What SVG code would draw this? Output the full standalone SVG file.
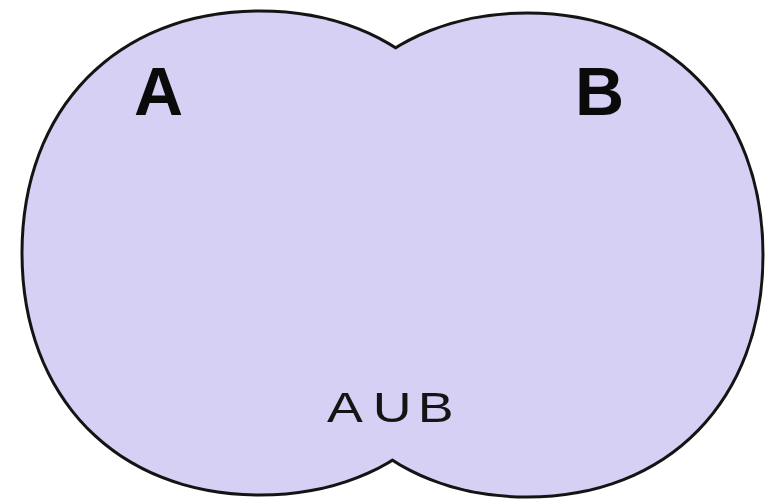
<svg xmlns="http://www.w3.org/2000/svg" xmlns:xlink="http://www.w3.org/1999/xlink" width="770" height="502" viewBox="0 0 770 502">
  <style>
    .outline { fill: none; stroke: #141414; stroke-width: 6; }
    .area { fill: #d6d0f4; stroke: none; }
    .set-label { font-family: "Liberation Sans", Arial, sans-serif; font-weight: bold; font-size: 68px; fill: #0a0a0a; }
    .union-label { font-family: "Liberation Sans", Arial, sans-serif; font-size: 43px; fill: #141414; }
  </style>
  <defs>
    <!-- the two sets; outlines are stroked double-width, then the fills
         are laid on top so only the outer boundary of the union remains -->
    <path id="lobe-a" d="M260,12.5 C401.9,12.5 496.5,108.7 496.5,253 C496.5,397.3 401.9,493.5 260,493.5 C118.1,493.5 23.5,397.3 23.5,253 C23.5,108.7 118.1,12.5 260,12.5Z"/>
    <path id="lobe-b" d="M527,14.5 C667.7,14.5 761.5,110.7 761.5,255 C761.5,399.3 667.7,495.5 527,495.5 C386.3,495.5 292.5,399.3 292.5,255 C292.5,110.7 386.3,14.5 527,14.5Z"/>
  </defs>
  <rect width="770" height="502" fill="#ffffff"/>

  <g id="outlines">
    <use xlink:href="#lobe-a" class="outline"/>
    <use xlink:href="#lobe-b" class="outline"/>
  </g>

  <g id="set-a">
    <use xlink:href="#lobe-a" class="area"/>
    <text class="set-label" x="134" y="115">A</text>
  </g>

  <g id="set-b">
    <use xlink:href="#lobe-b" class="area"/>
    <text class="set-label" x="575" y="115">B</text>
  </g>

  <g id="union">
    <!-- wide, lightly spaced caption -->
    <text class="union-label" transform="translate(327,422) scale(1.25,1)"><tspan x="0">A</tspan><tspan x="36.6">U</tspan><tspan x="72.6">B</tspan></text>
  </g>
</svg>
